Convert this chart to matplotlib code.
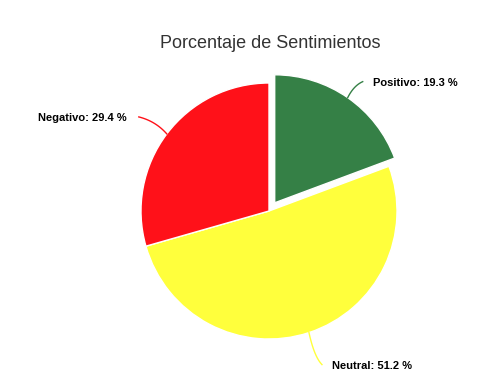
import numpy as np
import matplotlib.pyplot as plt

# datos
categorias = ['Positivo', 'Neutral', 'Negativo']
porcentajes = [19.3, 51.2, 29.4]
colores = ['#358046', '#ffff3c', '#ff1119']
explode_px = [10, 0, 0]

W, H = 491, 382
fig = plt.figure(figsize=(W / 100, H / 100), dpi=100)
ax = fig.add_axes([0, 0, 1, 1])

cx, cy, r = 269, 171, 128
total = sum(porcentajes)
fracs = [p / total for p in porcentajes]

ax.pie(fracs, colors=colores, startangle=90, counterclock=False,
       center=(cx, cy), radius=r, explode=explode_px,
       wedgeprops=dict(edgecolor='white', linewidth=1), frame=True)
ax.set_xlim(0, W)
ax.set_ylim(0, H)
ax.set_aspect('equal')
ax.axis('off')

# desplazamiento del conector (pixeles) y alineacion
conector = [(15, 16), (13, -32), (-28, 17)]
alin = ['left', 'left', 'right']

acum = 0
for cat, p, f, col, e, (dx, dy), ha in zip(categorias, porcentajes, fracs, colores,
                                         explode_px, conector, alin):
    theta = np.deg2rad((acum + f / 2) * 360)
    acum += f
    ux, uy = np.sin(theta), np.cos(theta)
    x0 = cx + (r + e) * ux
    y0 = cy + (r + e) * uy
    x1, y1 = x0 + dx, y0 + dy
    t = np.linspace(0, 1, 20)
    # curva suave hacia la etiqueta
    bx = (1 - t) ** 2 * x0 + 2 * (1 - t) * t * (x0 + dx * 0.4) + t ** 2 * x1
    by = (1 - t) ** 2 * y0 + 2 * (1 - t) * t * (y0 + dy * 0.75) + t ** 2 * y1
    ax.plot(bx, by, color=col, lw=1)
    tx = x1 + (10 if ha == 'left' else -12)
    ax.text(tx, y1 - 1.5, f'{cat}: {p} %', ha=ha, va='center', fontsize=8,
            fontweight='bold', family=['Liberation Sans', 'DejaVu Sans'], color='black')

ax.text(270, H - 44, 'Porcentaje de Sentimientos', ha='center', va='center',
        fontsize=13, color='#333333', family=['Liberation Sans', 'DejaVu Sans'])

fig.savefig('out.png', dpi=100)
